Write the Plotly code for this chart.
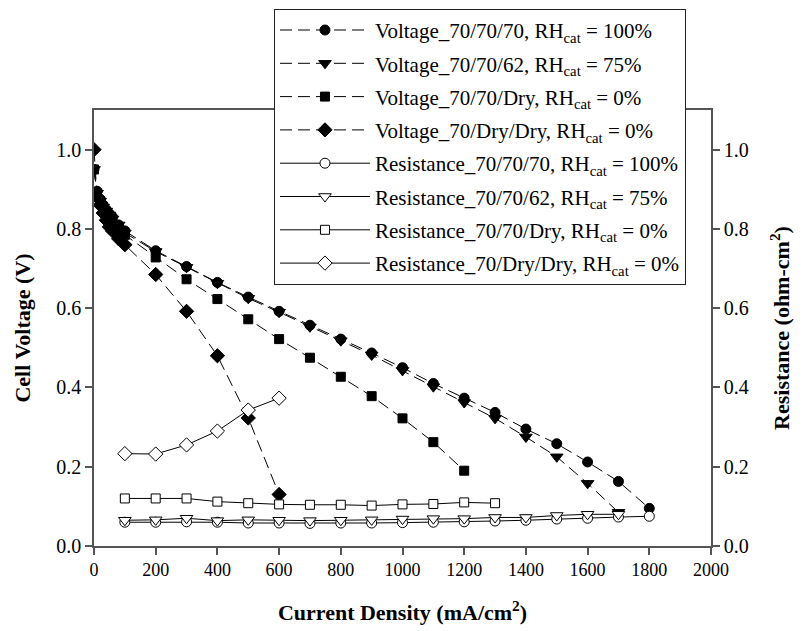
import plotly.graph_objects as go

# ---------------- data ----------------
cd_low = [0, 10, 20, 30, 40, 50, 60, 80, 100]
cd_full = [200, 300, 400, 500, 600, 700, 800, 900, 1000, 1100, 1200, 1300, 1400, 1500, 1600, 1700, 1800]

v_707070_x = cd_low + cd_full
v_707070 = [0.95, 0.895, 0.875, 0.86, 0.848, 0.838, 0.83, 0.81, 0.795,
            0.745, 0.705, 0.665, 0.628, 0.592, 0.557, 0.522, 0.487, 0.45,
            0.41, 0.373, 0.337, 0.295, 0.258, 0.212, 0.163, 0.095]

v_707062_x = cd_low + cd_full[:-1]
v_707062 = [0.95, 0.89, 0.87, 0.855, 0.845, 0.835, 0.825, 0.81, 0.79,
            0.743, 0.703, 0.663, 0.625, 0.59, 0.553, 0.518, 0.482, 0.443,
            0.402, 0.362, 0.322, 0.275, 0.225, 0.158, 0.085]

v_7070dry_x = cd_low + cd_full[:11]
v_7070dry = [0.95, 0.89, 0.87, 0.852, 0.84, 0.83, 0.82, 0.80, 0.785,
             0.728, 0.673, 0.623, 0.572, 0.522, 0.475, 0.427, 0.378, 0.322,
             0.262, 0.19, 0.11]

v_70drydry_x = cd_low + [200, 300, 400, 500, 600]
v_70drydry = [1.0, 0.88, 0.86, 0.84, 0.822, 0.805, 0.795, 0.775, 0.76,
              0.685, 0.592, 0.48, 0.323, 0.13]

r_x_all = [100, 200, 300, 400, 500, 600, 700, 800, 900, 1000, 1100, 1200, 1300, 1400, 1500, 1600, 1700, 1800]
r_707070 = [0.06, 0.06, 0.061, 0.06, 0.058, 0.058, 0.057, 0.058, 0.058, 0.059,
            0.06, 0.061, 0.063, 0.065, 0.068, 0.07, 0.073, 0.075]
r_707062 = [0.065, 0.066, 0.07, 0.064, 0.066, 0.065, 0.064, 0.065, 0.066, 0.068,
            0.069, 0.069, 0.072, 0.072, 0.077, 0.08, 0.08]
r_7070dry = [0.12, 0.12, 0.12, 0.112, 0.108, 0.105, 0.104, 0.104, 0.102, 0.105,
             0.106, 0.11, 0.108]
r_70drydry = [0.233, 0.232, 0.255, 0.29, 0.343, 0.373]

names = [
    "Voltage_70/70/70, RH<sub>cat</sub> = 100%",
    "Voltage_70/70/62, RH<sub>cat</sub> = 75%",
    "Voltage_70/70/Dry, RH<sub>cat</sub> = 0%",
    "Voltage_70/Dry/Dry, RH<sub>cat</sub> = 0%",
    "Resistance_70/70/70, RH<sub>cat</sub> = 100%",
    "Resistance_70/70/62, RH<sub>cat</sub> = 75%",
    "Resistance_70/70/Dry, RH<sub>cat</sub> = 0%",
    "Resistance_70/Dry/Dry, RH<sub>cat</sub> = 0%",
]

x_ticks = [0, 200, 400, 600, 800, 1000, 1200, 1400, 1600, 1800, 2000]
y_ticks = [0.0, 0.2, 0.4, 0.6, 0.8, 1.0]

FONT = "Liberation Serif"

fig = go.Figure()

volt = [
    (v_707070_x, v_707070, "circle", 10),
    (v_707062_x, v_707062, "triangle-down", 11),
    (v_7070dry_x, v_7070dry, "square", 9),
    (v_70drydry_x, v_70drydry, "diamond", 11),
]
for i, (xs, ys, sym, sz) in enumerate(volt):
    fig.add_trace(go.Scatter(
        x=xs, y=ys, name=names[i], mode="lines+markers", legendgroup=f"g{i}",
        line=dict(color="black", width=1, dash="12px,6px"),
        marker=dict(symbol=sym, size=sz, color="black", line=dict(color="black", width=1)),
        yaxis="y",
    ))

res = [
    (r_x_all, r_707070, "circle", 10),
    (r_x_all[:17], r_707062, "triangle-down", 11),
    (r_x_all[:13], r_7070dry, "square", 9),
    (r_x_all[:6], r_70drydry, "diamond", 11),
]
for j, (xs, ys, sym, sz) in enumerate(res):
    fig.add_trace(go.Scatter(
        x=xs, y=ys, name=names[4 + j], mode="lines+markers", legendgroup=f"g{4 + j}",
        line=dict(color="black", width=1),
        marker=dict(symbol=sym, size=sz, color="white", line=dict(color="black", width=1)),
        yaxis="y2",
    ))

axis_common = dict(
    showline=True, linecolor="#555", linewidth=1.5,
    ticks="outside", ticklen=7, tickcolor="#555", tickwidth=1.5,
    showgrid=False, zeroline=False,
)
x_tickfont = dict(family=FONT, size=18, color="black")
y_tickfont = dict(family=FONT, size=20, color="black")
title_font = dict(family=FONT, size=22, color="black")

# The page body has an 8px default margin, so the figure is 8px smaller
fig.update_layout(
    width=798, height=623,
    margin=dict(l=86, r=95, t=102, b=85, autoexpand=False),
    paper_bgcolor="white", plot_bgcolor="white",
    font=dict(family=FONT, color="black"),
    showlegend=True,
    legend=dict(
        x=0.2917, y=1.232, xanchor="left", yanchor="top",
        bgcolor="white", bordercolor="#222", borderwidth=1,
        font=dict(family=FONT, size=21, color="black"),
        itemwidth=90, tracegroupgap=3,
    ),
    xaxis=dict(
        range=[0, 2000], tickvals=x_ticks, ticktext=[str(v) for v in x_ticks],
        mirror=True, automargin=False, tickfont=x_tickfont,
        title=dict(text="<b>Current Density (mA/cm<sup>2</sup>)</b>",
                   font=title_font, standoff=25),
        **axis_common,
    ),
    yaxis=dict(
        range=[0, 1.1], tickvals=y_ticks, ticktext=[f"{v:.1f}" for v in y_ticks],
        automargin=False, tickfont=y_tickfont,
        title=dict(text="<b>Cell Voltage (V)</b>", font=title_font, standoff=20),
        **axis_common,
    ),
    yaxis2=dict(
        range=[0, 1.1], tickvals=y_ticks, ticktext=[f"{v:.1f}" for v in y_ticks],
        overlaying="y", side="right", automargin=False, tickfont=y_tickfont,
        title=dict(text="<b>Resistance (ohm-cm<sup>2</sup>)</b>",
                   font=title_font, standoff=26),
        **axis_common,
    ),
)

fig.write_html("out.html")
